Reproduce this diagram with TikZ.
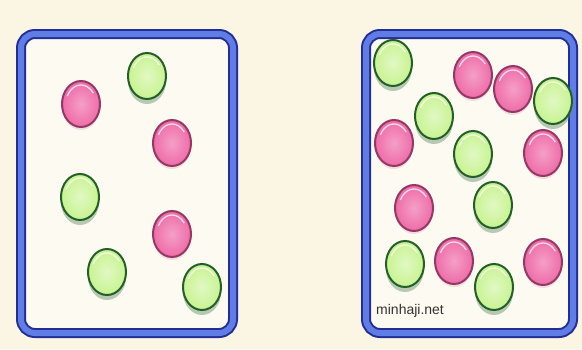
\documentclass[tikz,border=0pt]{standalone}
\usepackage{fontspec}
\setmainfont{Liberation Sans}
\usetikzlibrary{shapes.geometric,shadows}

\definecolor{cream}{RGB}{251,245,228}
\definecolor{paper}{RGB}{253,250,241}
\definecolor{rimblue}{RGB}{35,45,150}
\definecolor{boxblue}{RGB}{95,125,228}
\definecolor{limefill}{RGB}{200,243,145}
\definecolor{limerim}{RGB}{35,95,40}
\definecolor{rosefill}{RGB}{238,108,168}
\definecolor{roserim}{RGB}{150,55,100}

\tikzset{
  ball/.style={shape=ellipse,minimum width=38pt,minimum height=46pt,
    line width=2pt,inner sep=0pt,
    path picture={\draw[white,line width=1.3pt,opacity=.75]
      (path picture bounding box.center) ++(155:15pt and 19pt)
      arc[start angle=155,end angle=35,x radius=15pt,y radius=19pt];}},
  greenball/.style={ball,draw=limerim,inner color=limefill!55!white,
    outer color=limefill,
    drop shadow={shadow xshift=0pt,shadow yshift=-5pt,fill=limerim!70,opacity=.45}},
  pinkball/.style={ball,draw=roserim,inner color=rosefill!65!white,
    outer color=rosefill,
    drop shadow={shadow xshift=0pt,shadow yshift=-3pt,fill=roserim!40,opacity=.35}},
  jar/.style={shape=rectangle,rounded corners=14pt,draw=rimblue,fill=paper,
    line width=10pt,minimum height=299pt,inner sep=0pt,outer sep=0pt}
}

\begin{document}
\begin{tikzpicture}[x=1pt,y=-1pt]
  \fill[cream] (0,0) rectangle (582,349);
  \useasboundingbox (0,0) rectangle (582,349);

  % the two jars
  \node[jar,minimum width=212pt] (left) at (127,183.5) {};
  \node[jar,minimum width=207pt] (right) at (469.5,183.5) {};
  \draw[boxblue,line width=6pt,rounded corners=14pt]
    (left.south west) rectangle (left.north east);
  \draw[boxblue,line width=6pt,rounded corners=14pt]
    (right.south west) rectangle (right.north east);

  % left jar
  \foreach \n/\x/\y in {1/147/76,2/80/197,3/107/272,4/202/287}
    \node[greenball] (lg\n) at (\x,\y) {};
  \foreach \n/\x/\y in {1/81/104,2/172/143,3/172/234}
    \node[pinkball] (lp\n) at (\x,\y) {};

  % right jar
  \foreach \n/\x/\y in {1/393/63,2/553/101,3/434/116,4/473/154,5/493/205,
      6/405/264,7/494/287}
    \node[greenball] (rg\n) at (\x,\y) {};
  \foreach \n/\x/\y in {1/473/75,2/513/89,3/394/143,4/543/153,5/414/208,
      6/454/261,7/543/262}
    \node[pinkball] (rp\n) at (\x,\y) {};

  \node[anchor=west,inner sep=0pt,text=black!80,
    font=\fontsize{14}{14}\selectfont] (site) at (376,311) {minhaji.net};
\end{tikzpicture}
\end{document}
